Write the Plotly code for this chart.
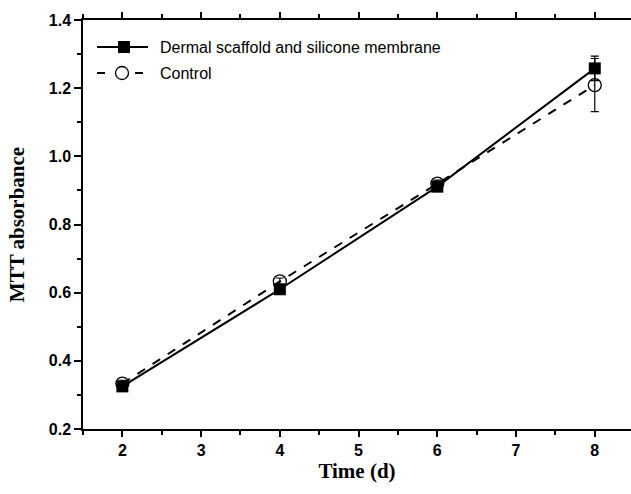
import plotly.graph_objects as go

days = [2, 4, 6, 8]
scaffold = [0.325, 0.610, 0.911, 1.258]
scaffold_err = [0.008, 0.008, 0.008, 0.036]
control = [0.333, 0.633, 0.920, 1.209]
control_err = [0.010, 0.010, 0.010, 0.078]
series_names = ["Dermal scaffold and silicone membrane", "Control"]
x_ticks = [2, 3, 4, 5, 6, 7, 8]
y_ticks = [0.2, 0.4, 0.6, 0.8, 1.0, 1.2, 1.4]

fig = go.Figure()
fig.add_trace(go.Scatter(
    x=days, y=scaffold, name=series_names[0],
    mode="lines+markers", showlegend=False,
    line=dict(color="black", width=2),
    marker=dict(symbol="square", size=12, color="black"),
    error_y=dict(type="data", array=scaffold_err, color="black", thickness=1.2, width=4),
))
fig.add_trace(go.Scatter(
    x=days, y=control, name=series_names[1],
    mode="lines+markers", showlegend=False,
    line=dict(color="black", width=2, dash="dash"),
    marker=dict(symbol="circle-open", size=13, color="black", line=dict(width=1.3)),
    error_y=dict(type="data", array=control_err, color="black", thickness=1.2, width=4),
))

# Manual legend (paper coordinates)
W = 548.0
H = 409.0
def px(x):
    return (x - 83) / W
def py(y):
    return (429 - y) / H

legend_shapes = [
    dict(type="line", xref="paper", yref="paper", x0=px(97), x1=px(148), y0=py(47), y1=py(47),
         line=dict(color="black", width=2)),
    dict(type="rect", xref="paper", yref="paper", xsizemode="pixel", ysizemode="pixel",
         xanchor=px(124), yanchor=py(47), x0=-6, x1=6, y0=-6, y1=6,
         fillcolor="black", line=dict(color="black", width=0)),
    dict(type="line", xref="paper", yref="paper", x0=px(97), x1=px(105), y0=py(73), y1=py(73),
         line=dict(color="black", width=2)),
    dict(type="line", xref="paper", yref="paper", x0=px(135), x1=px(143), y0=py(73), y1=py(73),
         line=dict(color="black", width=2)),
    dict(type="circle", xref="paper", yref="paper", xsizemode="pixel", ysizemode="pixel",
         xanchor=px(122), yanchor=py(73), x0=-6.5, x1=6.5, y0=-6.5, y1=6.5,
         fillcolor="white", line=dict(color="black", width=1.3)),
]
legend_ann = [
    dict(text=series_names[0], xref="paper", yref="paper", x=px(158), y=py(47),
         xanchor="left", yanchor="middle", showarrow=False,
         font=dict(family="Liberation Sans, Arial", size=16, color="black")),
    dict(text=series_names[1], xref="paper", yref="paper", x=px(158), y=py(73),
         xanchor="left", yanchor="middle", showarrow=False,
         font=dict(family="Liberation Sans, Arial", size=16, color="black")),
]

fig.update_layout(
    width=631, height=494,
    margin=dict(l=83, r=0, t=20, b=65),
    plot_bgcolor="white", paper_bgcolor="white",
    showlegend=False,
    shapes=legend_shapes,
    annotations=legend_ann,
    xaxis=dict(
        range=[1.5, 8.46], tickvals=x_ticks,
        ticktext=["<b>%d</b>" % v for v in x_ticks],
        ticks="outside", ticklen=6, tickwidth=1.5, tickcolor="black",
        minor=dict(dtick=0.5, tick0=0, ticks="outside", ticklen=4, tickwidth=1.5, tickcolor="black"),
        showline=True, linecolor="black", linewidth=1.5, mirror="ticks",
        showgrid=False, zeroline=False,
        tickfont=dict(family="Liberation Sans, Arial", size=16, color="black"),
        title=dict(text="<b>Time (d)</b>", font=dict(family="Liberation Serif, Times New Roman", size=21, color="black"), standoff=4),
    ),
    yaxis=dict(
        range=[0.2, 1.4], tickvals=y_ticks,
        ticktext=["<b>%.1f</b>" % v for v in y_ticks],
        ticks="outside", ticklen=7, tickwidth=1.5, tickcolor="black",
        minor=dict(dtick=0.1, tick0=0, ticks="outside", ticklen=4, tickwidth=1.5, tickcolor="black"),
        showline=True, linecolor="black", linewidth=1.5,
        showgrid=False, zeroline=False,
        tickfont=dict(family="Liberation Sans, Arial", size=16, color="black"),
        title=dict(text="<b>MTT absorbance</b>", font=dict(family="Liberation Serif, Times New Roman", size=21, color="black"), standoff=18),
    ),
)

fig.write_html("out.html")
